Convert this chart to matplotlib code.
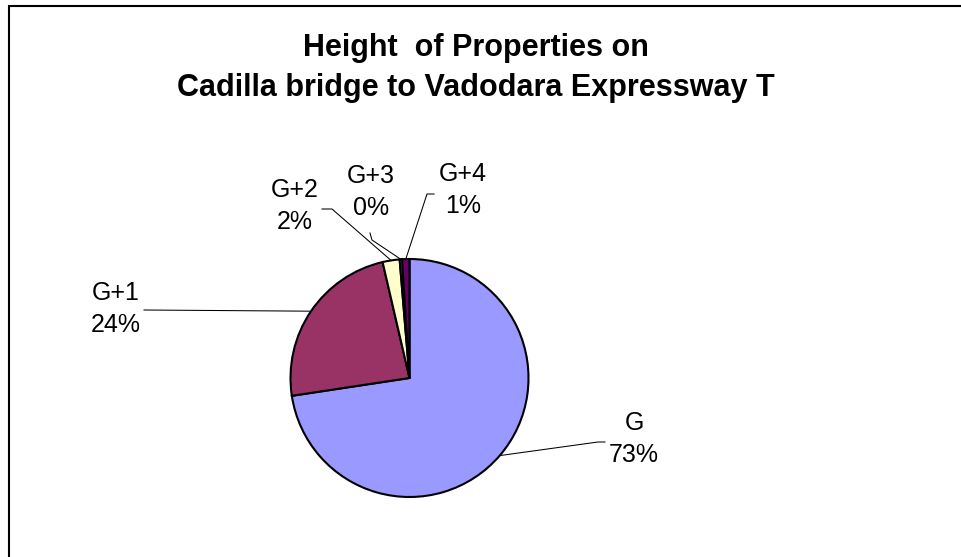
import matplotlib.pyplot as plt
from matplotlib.patches import Rectangle
import numpy as np

plt.rcParams['font.family'] = ['Liberation Sans', 'DejaVu Sans']

labels = ['G', 'G+1', 'G+2', 'G+3', 'G+4']
counts = np.array([220, 72, 7, 1, 3])
colors = ['#9999FF', '#993366', '#FFFFCC', '#CCFFFF', '#660066']

title = 'Height  of Properties on\nCadilla bridge to Vadodara Expressway T'

# label text positions + leader elbows, in pixels from top-left
label_pos = [(634, 439), (116, 309), (295, 206), (371, 192), (463, 190)]
elbows = [[(605, 442), (598, 442)],
          [(144, 310)],
          [(322, 209), (332, 209)],
          [(370, 233), (372, 240)],
          [(434, 194), (427, 194)]]

W, H = 961, 557
fig = plt.figure(figsize=(W / 100, H / 100), dpi=100)
ax = fig.add_axes([0, 0, 1, 1])

cx, cy, r = 409.5, H - 378, 119
wedges, _ = ax.pie(counts, colors=colors, startangle=90, counterclock=False,
                   center=(cx, cy), radius=r,
                   wedgeprops=dict(edgecolor='black', linewidth=1.5))
ax.set_xlim(0, W)
ax.set_ylim(0, H)
ax.set_aspect('auto')
ax.axis('off')

pct = counts / counts.sum() * 100
for i, w in enumerate(wedges):
    th = np.deg2rad((w.theta1 + w.theta2) / 2)
    end = (cx + r * np.cos(th), cy + r * np.sin(th))
    xs = [p[0] for p in elbows[i]] + [end[0]]
    ys = [H - p[1] for p in elbows[i]] + [end[1]]
    ax.plot(xs, ys, color='black', lw=0.75)
    tx, ty = label_pos[i]
    ax.text(tx, H - ty, f'{labels[i]}\n{pct[i]:.0f}%', ha='center', va='center',
            fontsize=18, linespacing=1.38)

ax.text(476, H - 68, title, ha='center', va='center', fontsize=22,
        fontweight='bold', linespacing=1.4)

# chart border
ax.add_patch(Rectangle((9, -20), 1000, H - 6 + 20, fill=False,
                       edgecolor='black', lw=1.5, clip_on=False))

fig.savefig('out.png', dpi=100)
